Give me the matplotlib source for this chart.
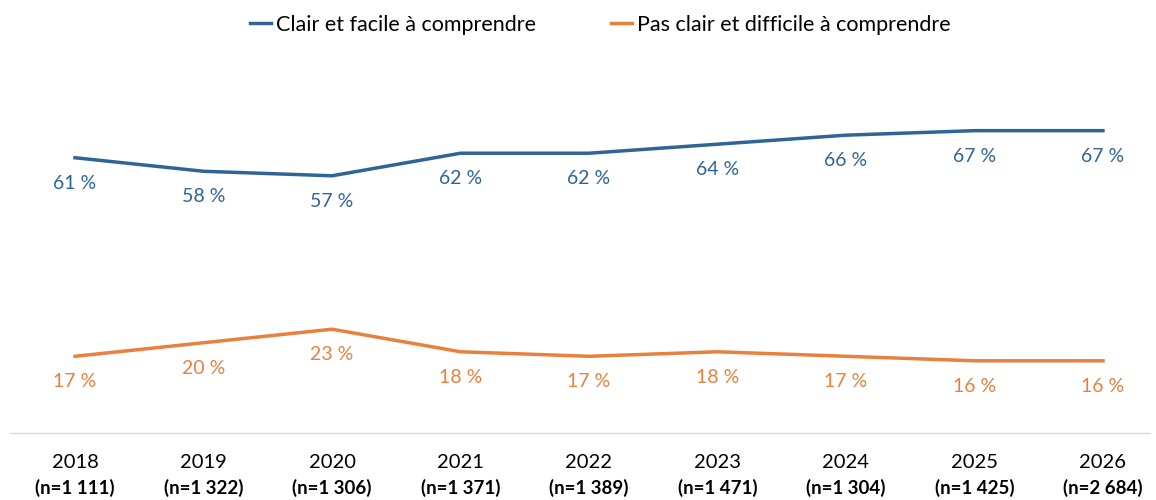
import matplotlib.pyplot as plt
import matplotlib.transforms as mtransforms

years = ['2018', '2019', '2020', '2021', '2022', '2023', '2024', '2025', '2026']
counts = ['(n=1 111)', '(n=1 322)', '(n=1 306)', '(n=1 371)', '(n=1 389)',
          '(n=1 471)', '(n=1 304)', '(n=1 425)', '(n=2 684)']
clair = [61, 58, 57, 62, 62, 64, 66, 67, 67]
pas_clair = [17, 20, 23, 18, 17, 18, 17, 16, 16]

blue = '#2F6497'
orange = '#E9803E'

plt.rcParams['font.family'] = ['Lato', 'DejaVu Sans']

fig = plt.figure(figsize=(11.56, 5), dpi=100)
ax = fig.add_axes([10 / 1156, 1 - 433 / 500, 1140 / 1156, 361 / 500])

x = list(range(len(years)))
ax.plot(x, clair, color=blue, lw=2.5, label='Clair et facile à comprendre')
ax.plot(x, pas_clair, color=orange, lw=2.5, label='Pas clair et difficile à comprendre')

for xi, v in zip(x, clair):
    ax.annotate(f'{v} %', (xi, v), xytext=(0, -18.5), textcoords='offset points',
                ha='center', va='center', color=blue, fontsize=14)
for xi, v in zip(x, pas_clair):
    ax.annotate(f'{v} %', (xi, v), xytext=(0, -18.5), textcoords='offset points',
                ha='center', va='center', color=orange, fontsize=14)

ax.set_xlim(-0.506, 8.366)
ax.set_ylim(0, 80)
for s in ['top', 'right', 'left']:
    ax.spines[s].set_visible(False)
ax.spines['bottom'].set_color('#D9D9D9')
ax.spines['bottom'].set_linewidth(1)
ax.set_yticks([])
ax.set_xticks([])

trans = mtransforms.blended_transform_factory(ax.transData, fig.transFigure)
for xi, y, n in zip(x, years, counts):
    ax.text(xi, 1 - 463 / 500, y, transform=trans, ha='center', va='center',
            fontsize=14.5, color='#000000')
    ax.text(xi, 1 - 488 / 500, n, transform=trans, ha='center', va='center',
            fontsize=13.5, fontweight='bold', color='#000000')

fig.legend(loc='center', bbox_to_anchor=(600 / 1156, 1 - 25 / 500), ncol=2, frameon=False,
           fontsize=15.5, handlelength=1.0, handletextpad=0.2, columnspacing=3.5)

fig.savefig('out.png', dpi=100)
